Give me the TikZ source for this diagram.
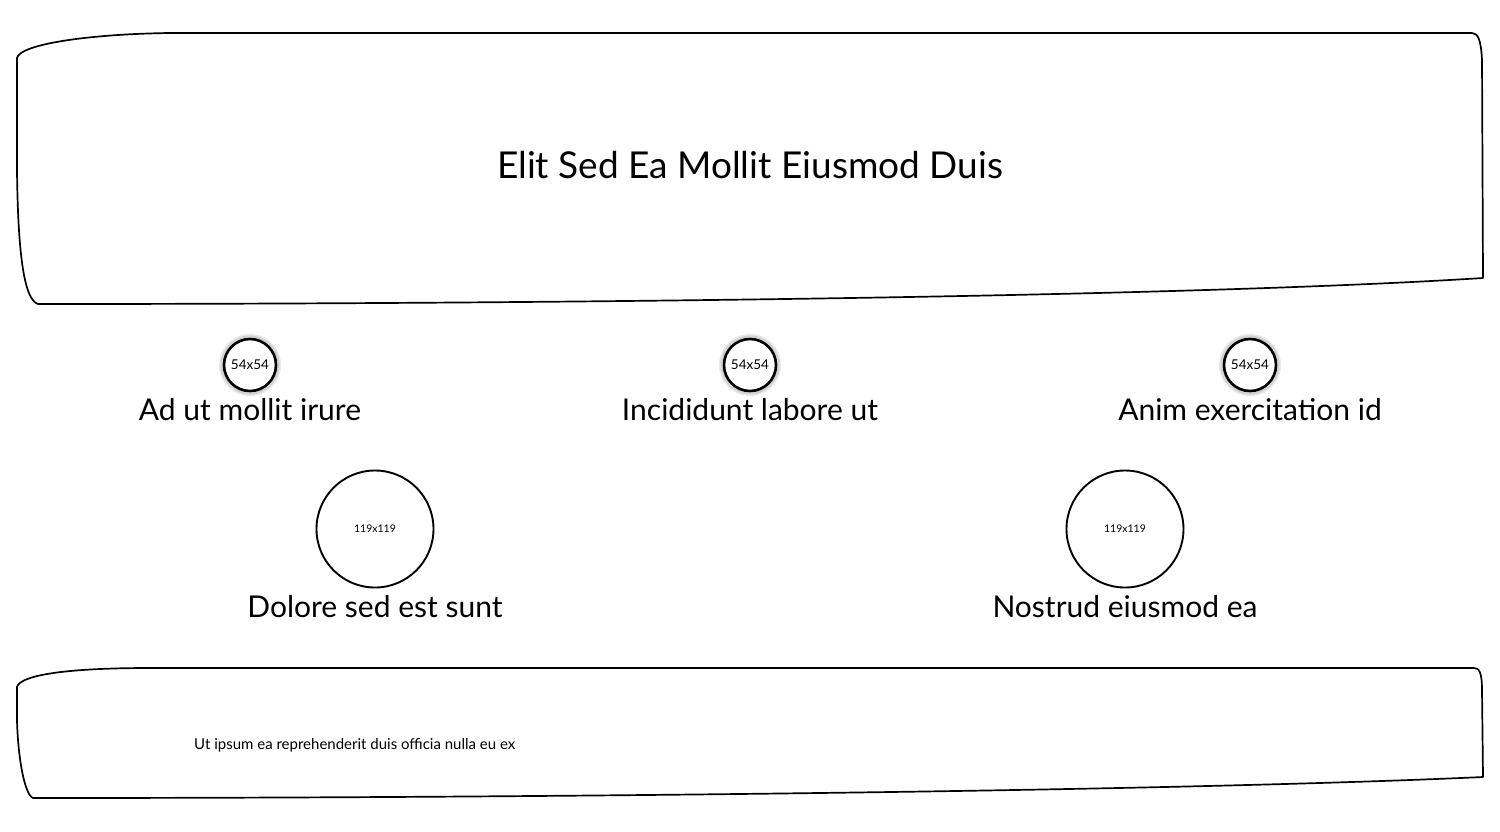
\documentclass[tikz,border=0pt]{standalone}
\usepackage{fontspec}
\setmainfont{Lato}
\begin{document}
\begin{tikzpicture}[x=1pt,y=-1pt,
  sketchbox/.style={draw=black,line width=1.7pt,line join=round},
  smallc/.style={circle,draw=black,line width=2.6pt,minimum size=52pt,inner sep=0pt,fill=white,font=\fontsize{13.5}{15}\selectfont},
  bigc/.style={circle,draw=black,line width=1.9pt,minimum size=117pt,inner sep=0pt,font=\fontsize{10.5}{13}\selectfont},
  lbl/.style={font=\fontsize{30}{36}\selectfont,inner sep=0pt},
  title/.style={font=\fontsize{37}{44}\selectfont,inner sep=0pt},
  note/.style={font=\fontsize{15}{18}\selectfont,inner sep=0pt,anchor=west}]
\useasboundingbox (0,0) rectangle (1500,831);
% top banner
\draw[sketchbox] (17,58) .. controls (20,44) and (90,34) .. (170,33)
  -- (1472,33) .. controls (1478,33) and (1481,40) .. (1482,60)
  -- (1483,278) .. controls (1200,296) and (600,304) .. (38,304)
  .. controls (25,300) and (18,260) .. (17,170) -- cycle;
\node[title] (t) at (750,165) {Elit Sed Ea Mollit Eiusmod Duis};
% bottom banner
\draw[sketchbox] (17,687) .. controls (20,676) and (60,668) .. (150,668)
  -- (1474,668) .. controls (1479,668) and (1482,672) .. (1482,690)
  -- (1483,777) .. controls (1200,790) and (600,798) .. (33,798)
  .. controls (25,795) and (18,760) .. (17,720) -- cycle;
\node[note] (n) at (194,745) {Ut ipsum ea reprehenderit duis officia nulla eu ex};
% small circles with glow
\foreach \x in {250,750,1250}{
  \fill[black!35,opacity=0.6] (\x,365) circle (29.5);
  \fill[black!15,opacity=0.6] (\x,365) circle (31);
}
\node[smallc] (c1) at (250,365) {54x54};
\node[smallc] (c2) at (750,365) {54x54};
\node[smallc] (c3) at (1250,365) {54x54};
\node[lbl] (l1) at (250,410) {Ad ut mollit irure};
\node[lbl] (l2) at (750,410) {Incididunt labore ut};
\node[lbl] (l3) at (1250,410) {Anim exercitation id};
% big circles
\node[bigc] (b1) at (375,529) {119x119};
\node[bigc] (b2) at (1125,529) {119x119};
\node[lbl] (l4) at (375,607) {Dolore sed est sunt};
\node[lbl] (l5) at (1125,607) {Nostrud eiusmod ea};
\end{tikzpicture}
\end{document}
